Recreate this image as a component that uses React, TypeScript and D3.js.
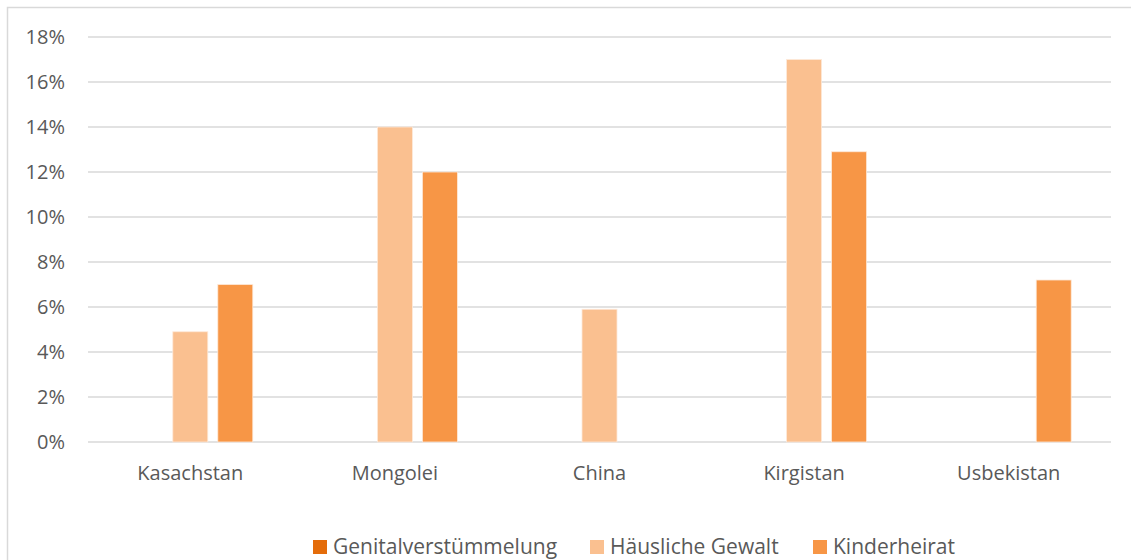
import { useRef, useEffect } from 'react';
import * as d3 from 'd3';

const countries = ['Kasachstan', 'Mongolei', 'China', 'Kirgistan', 'Usbekistan'];
const seriesNames = ['Genitalverstümmelung', 'Häusliche Gewalt', 'Kinderheirat'];
const genital = [0, 0, 0, 0, 0];
const haeuslich = [4.9, 14, 5.9, 17, 0];
const kinderheirat = [7, 12, 0, 12.9, 7.2];
const yTicks = [0, 2, 4, 6, 8, 10, 12, 14, 16, 18];
const colors = ['#E46C0A', '#FAC090', '#F79646'];

const W = 1131;
const H = 560;
const FONT = '"Open Sans", sans-serif';

const App = () => {
  const svgRef = useRef<SVGSVGElement>(null);

  useEffect(() => {
    const svg = d3.select(svgRef.current);
    svg.selectAll('*').remove();

    const values = [genital, haeuslich, kinderheirat];
    const left = 88, right = 1111, top = 37, bottom = 442;

    svg.append('rect')
      .attr('x', 7.5).attr('y', 7.5)
      .attr('width', W).attr('height', H)
      .attr('fill', '#fff').attr('stroke', '#d9d9d9').attr('stroke-width', 1.5);

    const x0 = d3.scaleBand().domain(countries).range([left, right]);
    const y = d3.scaleLinear().domain([0, 18]).range([bottom, top]);

    const grid = svg.append('g');
    grid.selectAll('line').data(yTicks).join('line')
      .attr('x1', left).attr('x2', right)
      .attr('y1', d => y(d)).attr('y2', d => y(d))
      .attr('stroke', '#d9d9d9').attr('stroke-width', 1.5);

    svg.append('g').selectAll('text').data(yTicks).join('text')
      .attr('x', left - 23).attr('y', d => y(d))
      .attr('dy', '0.35em')
      .attr('text-anchor', 'end')
      .attr('font-family', FONT).attr('font-size', 20).attr('fill', '#595959')
      .text(d => `${d}%`);

    const groupW = 125;
    countries.forEach((c, ci) => {
      const cx = (x0(c) as number) + x0.bandwidth() / 2;
      const x1 = d3.scaleBand().domain(seriesNames)
        .range([cx - groupW / 2, cx + groupW / 2]).paddingInner(10 / 45);
      seriesNames.forEach((s, si) => {
        const v = values[si][ci];
        if (v <= 0) return;
        svg.append('rect')
          .attr('x', x1(s) as number).attr('width', x1.bandwidth())
          .attr('y', y(v)).attr('height', y(0) - y(v))
          .attr('fill', colors[si])
          .attr('stroke', '#fde9d9').attr('stroke-width', 0.8);
      });
    });

    svg.append('g').selectAll('text').data(countries).join('text')
      .attr('x', d => (x0(d) as number) + x0.bandwidth() / 2)
      .attr('y', 480)
      .attr('text-anchor', 'middle')
      .attr('font-family', FONT).attr('font-size', 20).attr('fill', '#595959')
      .text(d => d);

    const legendX = [313, 590, 813];
    const lg = svg.append('g');
    seriesNames.forEach((s, i) => {
      lg.append('rect')
        .attr('x', legendX[i]).attr('y', 540)
        .attr('width', 14).attr('height', 14)
        .attr('fill', colors[i]);
      lg.append('text')
        .attr('x', legendX[i] + 20).attr('y', 554)
        .attr('font-family', FONT).attr('font-size', 21).attr('fill', '#595959')
        .text(s);
    });
  }, []);

  return (
    <svg ref={svgRef} width={W} height={H}
      style={{ position: 'absolute', left: 0, top: 0, display: 'block' }} />
  );
};

export default App;
